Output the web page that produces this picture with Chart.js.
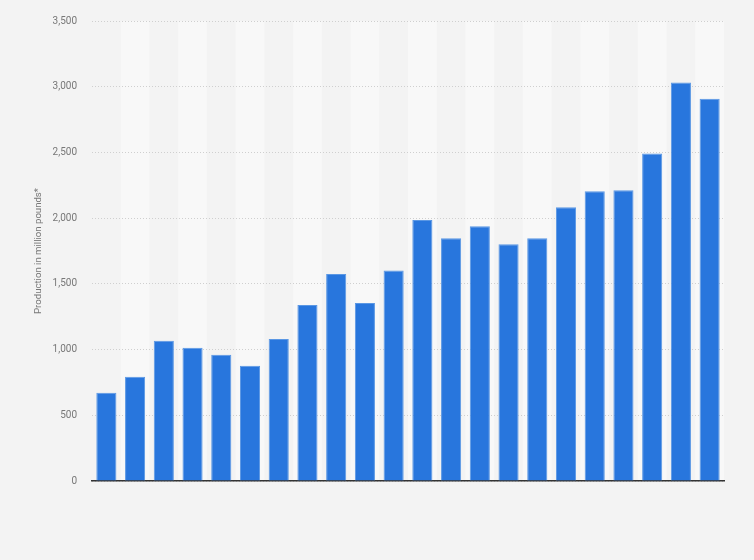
<!DOCTYPE html>
<html>
<head>
<meta charset="utf-8">
<script src="https://cdn.jsdelivr.net/npm/chart.js@4/dist/chart.umd.min.js"></script>
<style>
  html, body { margin: 0; padding: 0; background: #f3f3f3; }
  #wrap { width: 754px; height: 560px; position: relative; }
</style>
</head>
<body>
<div id="wrap"><canvas id="c" width="754" height="560"></canvas></div>
<script>
const categories = ['2000','2001','2002','2003','2004','2005','2006','2007','2008','2009','2010','2011','2012','2013','2014','2015','2016','2017','2018','2019','2020','2021'];
const production = [672, 794, 1067, 1014, 961, 877, 1081, 1340, 1575, 1355, 1602, 1986, 1847, 1939, 1802, 1847, 2083, 2204, 2212, 2492, 3033, 2909];
const yTicks = [0, 500, 1000, 1500, 2000, 2500, 3000, 3500];
const yTitle = 'Production in million pounds*';
const FONT = 'Roboto, "Liberation Sans", Arial, sans-serif';

const stripes = {
  id: 'stripes',
  beforeDraw(chart) {
    const {ctx, chartArea, scales: {x}} = chart;
    const w = (chartArea.right - chartArea.left) / categories.length;
    ctx.save();
    ctx.fillStyle = '#f8f8f8';
    categories.forEach((c, i) => {
      if (i % 2 === 1) {
        const cx = x.getPixelForValue(i);
        ctx.fillRect(cx - w / 2, chartArea.top, w, chartArea.bottom - chartArea.top);
      }
    });
    ctx.restore();
  },
  afterDraw(chart) {
    const {ctx, chartArea} = chart;
    ctx.save();
    ctx.translate(39, (chartArea.top + chartArea.bottom) / 2);
    ctx.rotate(-Math.PI / 2);
    ctx.fillStyle = '#777777';
    ctx.font = '9.6px ' + FONT;
    ctx.textAlign = 'center';
    ctx.textBaseline = 'middle';
    ctx.fillText(yTitle, 0, 0);
    ctx.restore();
  }
};

new Chart(document.getElementById('c'), {
  type: 'bar',
  data: {
    labels: categories,
    datasets: [{
      data: production,
      backgroundColor: '#2876dd',
      borderColor: '#5a97e4',
      borderWidth: 1,
      barPercentage: 0.7,
      categoryPercentage: 1.0
    }]
  },
  plugins: [stripes],
  options: {
    responsive: false,
    animation: false,
    devicePixelRatio: 1,
    layout: { padding: { top: 19, right: 30, bottom: 0, left: 0 } },
    plugins: { legend: { display: false }, tooltip: { enabled: false } },
    scales: {
      x: {
        grid: { display: false, drawTicks: false },
        border: { display: true, color: '#333333', width: 1.5 },
        ticks: { display: false },
        afterFit(s) { s.height = 79; }
      },
      y: {
        min: 0, max: 3500,
        afterBuildTicks(s) { s.ticks = yTicks.map(v => ({ value: v })); },
        grid: { color: '#cfcfcf', drawTicks: false, lineWidth: 1 },
        border: { display: false, dash: [1, 2] },
        ticks: {
          padding: 15,
          color: '#777777',
          font: { family: FONT, size: 10 },
          callback: v => v.toLocaleString('en-US')
        },
        afterFit(s) { s.width = 92; }
      }
    }
  }
});
</script>
</body>
</html>
